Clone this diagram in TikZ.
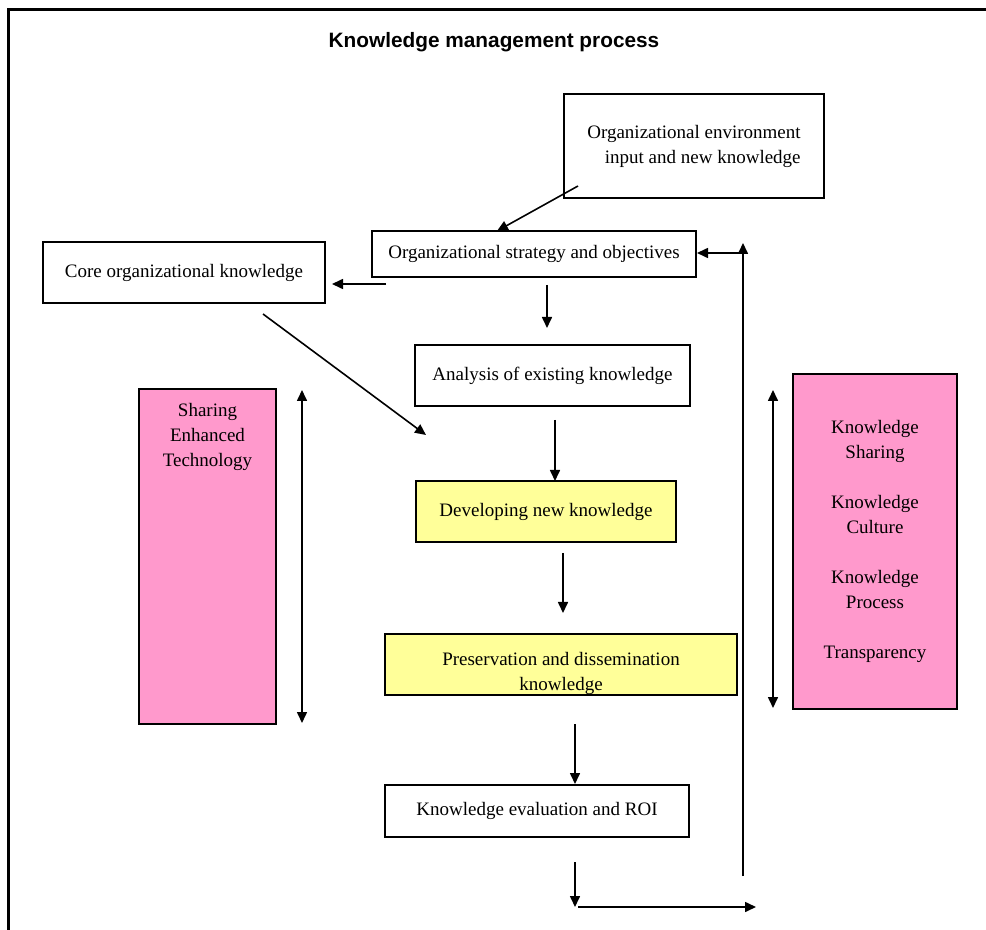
\documentclass[tikz,border=0pt]{standalone}
\usepackage{fontspec}
\setmainfont{Liberation Serif}
\newfontfamily\titlefont{Liberation Sans}
\usetikzlibrary{arrows.meta,calc}
\definecolor{kmpink}{HTML}{FF99CC}
\definecolor{kmyellow}{HTML}{FFFF99}
\tikzset{kbox/.style={draw,line width=0.9pt,inner sep=0pt,outer sep=0pt,align=center,font=\fontsize{9.5}{12.5}\selectfont}}
\tikzset{ybox/.style={kbox,fill=kmyellow}}
\tikzset{pbox/.style={kbox,fill=kmpink}}
\tikzset{ktext/.style={inner sep=0pt,align=center,font=\fontsize{9.5}{12.5}\selectfont}}
\tikzset{arr/.style={line width=0.8pt,-{Triangle[length=5.5pt,width=5pt]}}}
\tikzset{darr/.style={line width=0.8pt,{Triangle[length=5.5pt,width=5pt]}-{Triangle[length=5.5pt,width=5pt]}}}

\begin{document}
\begin{tikzpicture}[x=0.5pt,y=-0.5pt]
    \clip (0,0) rectangle (986,930);
    \draw [line width=1.5pt] (8,10) rectangle (1000,960);
    \node [font=\titlefont\bfseries\fontsize{10.4}{12}\selectfont] (title) at (494,42) {Knowledge management process};
    \node [kbox,minimum width=130pt,minimum height=52pt] (envin) at (694,146) {};
    \node [ktext,align=right] (envtxt) at (694,146) {Organizational environment\\input and new knowledge};
    \node [kbox,minimum width=162pt,minimum height=23pt] (strategy) at (534,254) {Organizational strategy and objectives};
    \node [kbox,minimum width=141pt,minimum height=30.5pt] (core) at (184,272.5) {Core organizational knowledge};
    \node [kbox,minimum width=137.5pt,minimum height=30.5pt] (analysis) at (552.5,375.5) {Analysis of existing knowledge};
    \node [ybox,minimum width=130pt,minimum height=30.5pt] (develop) at (546,511.5) {Developing new knowledge};
    \node [ybox,minimum width=176pt,minimum height=30.5pt] (preserve) at (561,664.5) {};
    \node [ktext] (prestxt) at (561,673.5) {Preservation and dissemination\\knowledge};
    \node [kbox,minimum width=152pt,minimum height=26pt] (evaluate) at (537,811) {Knowledge evaluation and ROI};
    \node [pbox,minimum width=68.5pt,minimum height=167.5pt] (tech) at (207.5,556.5) {};
    \node [ktext,anchor=north] (techtxt) at ($(tech.north)+(0,14)$) {Sharing\\Enhanced\\Technology};
    \node [pbox,minimum width=82pt,minimum height=167.5pt] (culture) at (875,541.5)
        {Knowledge\\Sharing\\[12.5pt]Knowledge\\Culture\\[12.5pt]Knowledge\\Process\\[12.5pt]Transparency};
    \coordinate (loopbot) at (743,876);
    \coordinate (loopend) at (756,907);
    \draw [arr] ($(envin.south west)+(14,-12)$) -- ($(strategy.north west)+(125,0)$);
    \draw [arr] ($(strategy.south west)+(14,7)$) -- ($(core.south east)+(7,-19)$);
    \draw [arr] ($(strategy.south)+(13,8)$) -- ($(analysis.north)+(-5.5,-17)$);
    \draw [arr] ($(core.south)+(79,11)$) -- ($(develop.north west)+(10,-46)$);
    \draw [arr] ($(analysis.south)+(2.5,14)$) -- ($(develop.north)+(9,0)$);
    \draw [arr] ($(develop.south)+(17,11)$) -- ($(preserve.north)+(2,-21)$);
    \draw [arr] ($(preserve.south)+(14,29)$) -- ($(evaluate.north)+(38,-1)$);
    \draw [arr] ($(evaluate.south)+(38,25)$) -- ($(evaluate.south)+(38,70)$);
    \draw [arr] ($(evaluate.south)+(41,70)$) -- (loopend);
    \draw [arr] (loopbot) -- ($(strategy.east)+(47,-11)$);
    \draw [arr] ($(strategy.east)+(47,-1)$) -- ($(strategy.east)+(1,-1)$);
    \draw [darr] ($(tech.north east)+(26,1)$) -- ($(tech.south east)+(26,-1)$);
    \draw [darr] ($(culture.north west)+(-20,16)$) -- ($(culture.south west)+(-20,-1)$);
\end{tikzpicture}
\end{document}
